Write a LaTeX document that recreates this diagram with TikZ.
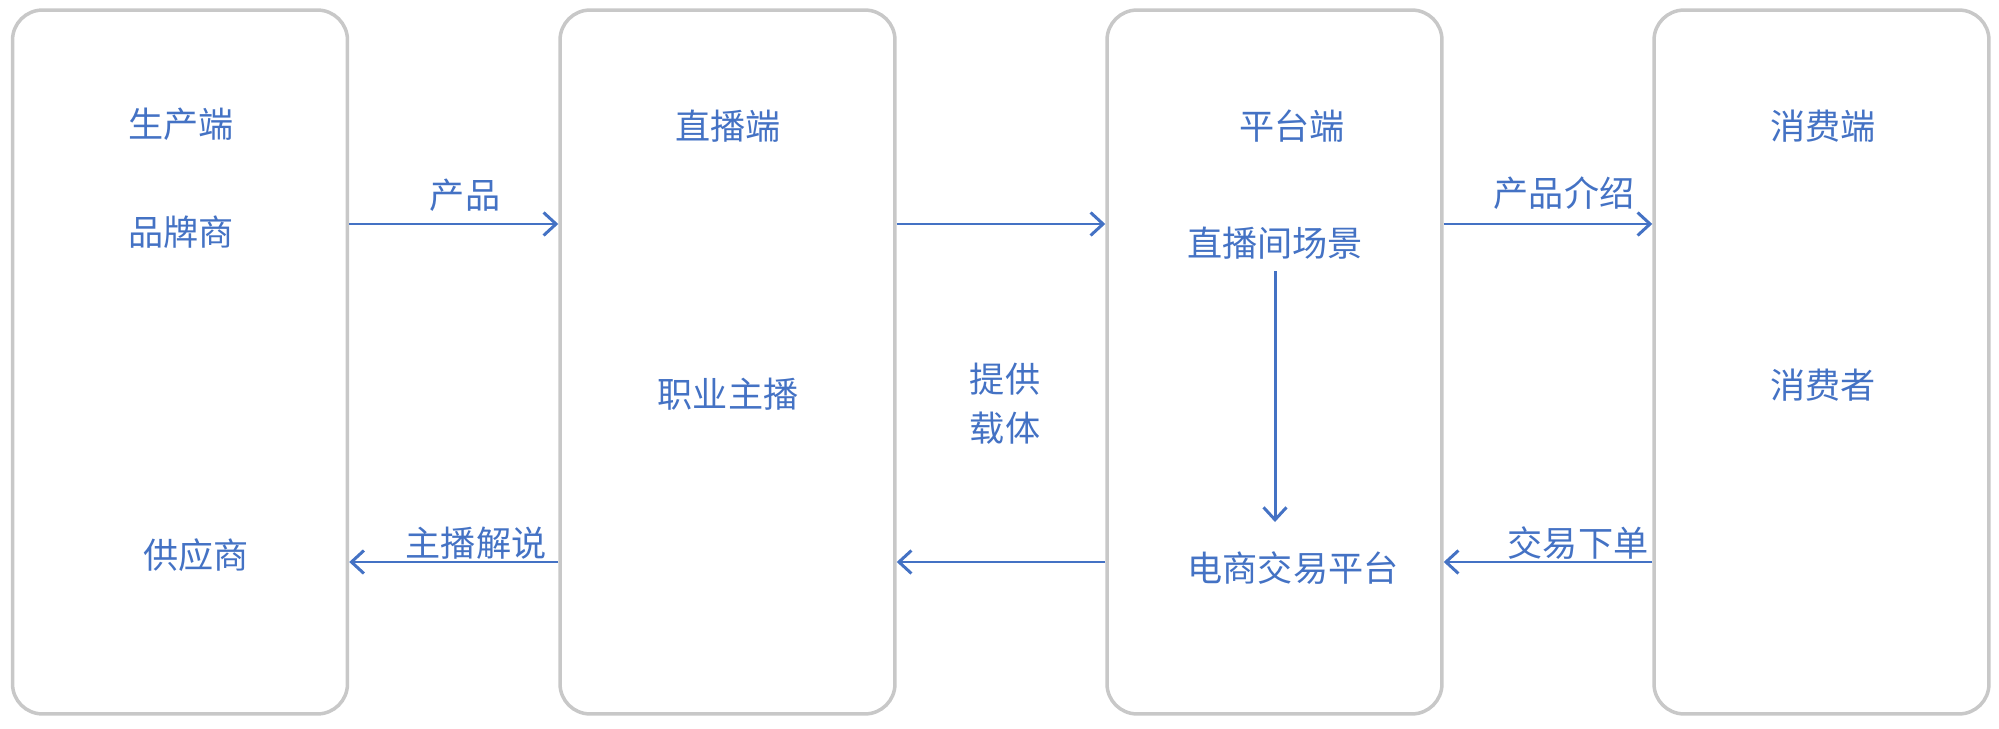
\documentclass[tikz,border=0pt]{standalone}
\usepackage{fontspec}
\usepackage{tikz}
\usetikzlibrary{arrows.meta,positioning}
\newfontfamily\cjk{Noto Sans CJK SC}
\definecolor{lineblue}{HTML}{4472C4}
\definecolor{boxgray}{HTML}{C8C8C8}

\begin{document}
\begin{tikzpicture}[x=0.02cm,y=-0.02cm,
  every node/.style={font=\cjk\fontsize{20}{24}\selectfont,text=lineblue},
  lane/.style={draw=boxgray,line width=2pt,rounded corners=0.6cm,minimum width=6.7cm,minimum height=14.08cm},
  flow/.style={draw=lineblue,line width=1.7pt,-{Straight Barb[length=0.25cm,width=0.46cm,line width=1.7pt]}}]
\useasboundingbox (0,0) rectangle (1999,729);
\node[lane] (b1) at (180,362) {};
\node[lane] (b2) at (727.5,362) {};
\node[lane] (b3) at (1274.5,362) {};
\node[lane] (b4) at (1821.5,362) {};
\coordinate (r1) at (0,224);
\coordinate (r2) at (0,562);
\node (prod) at (181,124) {生产端};
\node (brand) at (181,232) {品牌商};
\node (supp) at (196,555) {供应商};
\node (live) at (728,126) {直播端};
\node (anchor) at (728,394) {职业主播};
\node (plat) at (1292,126) {平台端};
\node (scene) at (1275,243) {直播间场景};
\node (trade) at (1293,568) {电商交易平台};
\node (cons) at (1823,126) {消费端};
\node (buyer) at (1823,385) {消费者};
\draw[flow] (b1.east |- r1) -- (b2.west |- r1);
\draw[flow] (b2.east |- r1) -- (b3.west |- r1);
\draw[flow] (b3.east |- r1) -- (b4.west |- r1);
\draw[flow] (b2.west |- r2) -- (b1.east |- r2);
\draw[flow] (b3.west |- r2) -- (b2.east |- r2);
\draw[flow] (b4.west |- r2) -- (b3.east |- r2);
\draw[flow,shorten <=0.12cm,shorten >=0.92cm] (scene) -- (scene |- trade);
\node (l1) at (465,195) {产品};
\node (l2) at (1564,193) {产品介绍};
\node (l3) at (476,543) {主播解说};
\node (l4) at (1578,543) {交易下单};
\node[align=center] (l5) at (1005,404) {提供\\[4pt]载体};
\end{tikzpicture}
\end{document}
